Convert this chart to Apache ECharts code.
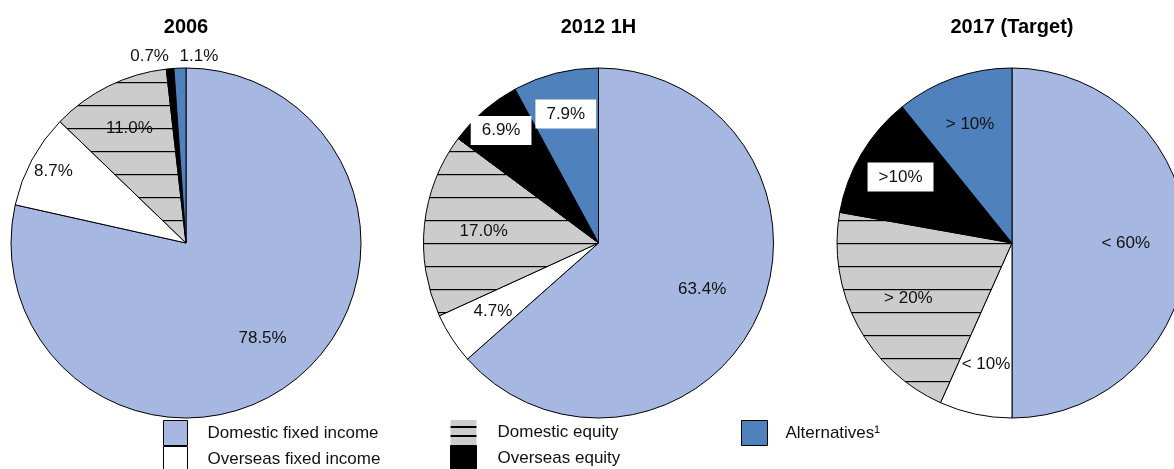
<!DOCTYPE html>
<html>
<head>
<meta charset="utf-8">
<script src="https://cdn.jsdelivr.net/npm/echarts@6/dist/echarts.min.js"></script>
<style>
html,body{margin:0;padding:0;background:#fff;}
#chart{width:1174px;height:469px;}
</style>
</head>
<body>
<div id="chart"></div>
<script>
// ---- data ----
const years = ['2006', '2012 1H', '2017 (Target)'];
const categories = ['Domestic fixed income', 'Overseas fixed income', 'Domestic equity', 'Overseas equity', 'Alternatives¹'];
const values2006 = [78.5, 8.7, 11.0, 0.7, 1.1];
const values2012 = [63.4, 4.7, 17.0, 6.9, 7.9];
const values2017 = [50.0, 6.7, 21.1, 11.4, 10.8]; // slice sizes
const labels2006 = ['78.5%', '8.7%', '11.0%', '0.7%', '1.1%'];
const labels2012 = ['63.4%', '4.7%', '17.0%', '6.9%', '7.9%'];
const labels2017 = ['< 60%', '< 10%', '> 20%', '>10%', '> 10%'];

// ---- styles / layout ----
const FONT = '"Liberation Sans", Arial, sans-serif';
function hatch(period, offsets, w) {
  const c = document.createElement('canvas');
  c.width = w; c.height = period;
  const ctx = c.getContext('2d');
  ctx.fillStyle = '#cccccc';
  ctx.fillRect(0, 0, w, period);
  ctx.fillStyle = '#000000';
  offsets.forEach(o => ctx.fillRect(0, o, w, o === offsets[0] && offsets.length === 1 ? 1.2 : 2));
  return { image: c, repeat: 'repeat' };
}
const colors = ['#a6b7e1', '#ffffff', hatch(23, [13], 8), '#000000', '#4f81bd'];
const legendHatch = hatch(25, [6, 15], 8);

const centers = [[186, 243], [598.5, 243], [1012, 243]];
const R = 175;
const radialFactors = [
  [0.70, 0.86, 0.73, 1.07, 1.07],
  [0.65, 0.72, 0.66, 0.85, 0.76],
  [0.65, 0.71, 0.67, 0.74, 0.72]
];
const aligns = [
  [null, null, null, 'right', 'left'],
  [null, null, null, null, null],
  [null, null, null, null, null]
];
const boxed = [
  [false, false, false, false, false],
  [false, false, false, true, true],
  [false, false, false, true, false]
];
const allValues = [values2006, values2012, values2017];
const allLabels = [labels2006, labels2012, labels2017];

function makeSeries(si) {
  const c = centers[si];
  return {
    type: 'pie',
    name: years[si],
    center: c,
    radius: [0, R],
    startAngle: 90,
    clockwise: true,
    avoidLabelOverlap: false,
    animation: false,
    emphasis: { disabled: true },
    itemStyle: { borderColor: '#000', borderWidth: 1 },
    label: {
      show: true,
      position: 'inside',
      fontFamily: FONT,
      fontSize: 17,
      color: '#111',
      formatter: p => allLabels[si][p.dataIndex]
    },
    labelLine: { show: false },
    labelLayout: function (params) {
      const lr = params.labelRect;
      const lx = lr.x + lr.width / 2, ly = lr.y + lr.height / 2;
      let dx = lx - c[0], dy = ly - c[1];
      const d = Math.sqrt(dx * dx + dy * dy) || 1;
      dx /= d; dy /= d;
      const f = radialFactors[si][params.dataIndex];
      const out = { x: c[0] + dx * f * R, y: c[1] + dy * f * R };
      const a = aligns[si][params.dataIndex];
      if (a) out.align = a;
      return out;
    },
    data: categories.map((name, i) => ({
      name: name,
      value: allValues[si][i],
      itemStyle: { color: colors[i] },
      label: boxed[si][i] ? { backgroundColor: '#fff', padding: [5, 11], lineHeight: 19 } : {}
    }))
  };
}

const legendCommon = {
  orient: 'vertical',
  top: 420,
  height: 60,
  itemGap: 0,
  itemHeight: 25,
  icon: 'rect',
  padding: 0,
  selectedMode: false,
  itemStyle: { borderColor: '#000', borderWidth: 1 },
  textStyle: { fontFamily: FONT, fontSize: 17, color: '#111' }
};

const option = {
  backgroundColor: '#fff',
  animation: false,
  title: years.map((t, i) => ({
    text: t,
    left: centers[i][0],
    top: 17,
    padding: 0,
    textAlign: 'center',
    textStyle: { fontFamily: FONT, fontSize: 20, fontWeight: 'bold', color: '#000' }
  })),
  legend: [
    Object.assign({}, legendCommon, {
      left: 163, itemWidth: 24,
      textStyle: Object.assign({}, legendCommon.textStyle, { padding: [0, 0, 0, 15] }),
      data: [categories[0], categories[1]]
    }),
    Object.assign({}, legendCommon, {
      left: 450, itemWidth: 26,
      textStyle: Object.assign({}, legendCommon.textStyle, { padding: [0, 0, 0, 16] }),
      data: [
        { name: categories[2], itemStyle: { color: legendHatch, borderWidth: 0 } },
        categories[3]
      ]
    }),
    Object.assign({}, legendCommon, {
      left: 741, itemWidth: 26,
      textStyle: Object.assign({}, legendCommon.textStyle, { padding: [0, 0, 0, 13] }),
      data: [categories[4]]
    })
  ],
  series: [makeSeries(0), makeSeries(1), makeSeries(2)]
};

const chart = echarts.init(document.getElementById('chart'), null, { renderer: 'canvas' });
chart.setOption(option);
</script>
</body>
</html>
